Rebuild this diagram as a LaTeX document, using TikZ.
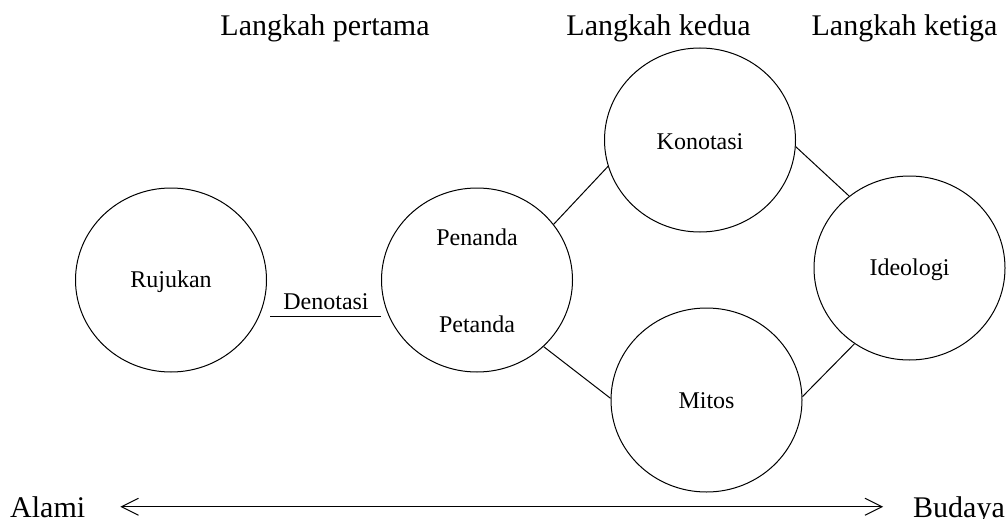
\documentclass[tikz,border=0pt]{standalone}
\usepackage{fontspec}
\setmainfont{Liberation Serif}
\usetikzlibrary{arrows.meta,calc,shapes.geometric}

\begin{document}
\begin{tikzpicture}[x=1pt,y=-1pt,>={Straight Barb[length=17pt,width=17pt,line width=1pt]}]
	\tikzstyle{lingkaran}=[draw, ellipse, line width=1pt, minimum width=191pt, minimum height=184pt, inner sep=0pt]
	\tikzstyle{judul}=[inner sep=0pt, anchor=base, font=\fontsize{30}{36}\selectfont]
	\tikzstyle{isi}=[inner sep=0pt, anchor=base, font=\fontsize{24}{29}\selectfont]
	\tikzstyle{garis}=[line width=1pt]

	\useasboundingbox (0,0) rectangle (1006,519);

	\node (L1) [judul] at (325,36) {Langkah pertama};
	\node (L2) [judul] at (658.5,36) {Langkah kedua};
	\node (L3) [judul] at (904.5,36) {Langkah ketiga};

	\node (rujukan) [lingkaran] at (171,280) {};
	\node (tanda) [lingkaran] at (477,280) {};
	\node (konotasi) [lingkaran] at (700,140) {};
	\node (mitos) [lingkaran] at (706.5,400) {};
	\node (ideologi) [lingkaran] at (909.5,268) {};

	\node [isi] at (171,287) {Rujukan};
	\node [isi] at (477,245) {Penanda};
	\node [isi] at (477,332) {Petanda};
	\node [isi] at (700,149) {Konotasi};
	\node [isi] at (706.5,408) {Mitos};
	\node [isi] at (909.5,275) {Ideologi};

	\coordinate (d1) at (270,316);
	\coordinate (d2) at (381,316);
	\draw [garis] (d1) -- (d2);
	\node (denotasi) [isi] at (326,309) {Denotasi};

	\draw [garis] (tanda.36.6) -- (konotasi.196.4);
	\draw [garis] (tanda.-45.9) -- (mitos.179);
	\draw [garis] (konotasi.-4) -- (ideologi.130);
	\draw [garis] (mitos.2) -- (ideologi.234.8);

	\node (alami) [judul, anchor=base west] at (10,517) {Alami};
	\node (budaya) [judul, anchor=base west] at (913,517) {Budaya};
	\draw [garis, <->] ($(alami.east)+(35,0)$) -- ($(alami.east -| budaya.west)+(-30,0)$);
\end{tikzpicture}
\end{document}
